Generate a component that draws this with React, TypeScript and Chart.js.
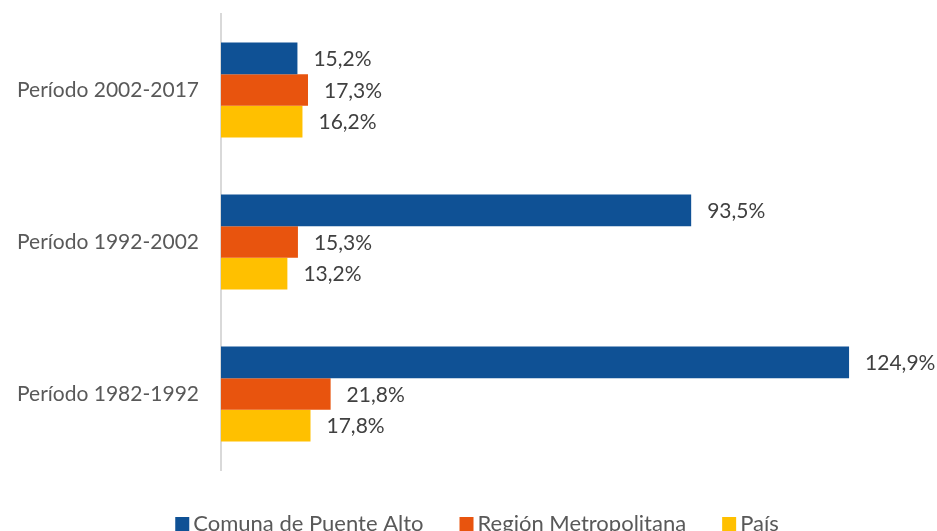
import React, { useEffect, useRef } from "react";
import { Chart, registerables } from "chart.js";

Chart.register(...registerables);

const categories = ["Período 2002-2017", "Período 1992-2002", "Período 1982-1992"];
const seriesNames = ["Comuna de Puente Alto", "Región Metropolitana", "País"];
const puenteAlto = [15.2, 93.5, 124.9];
const regionMetropolitana = [17.3, 15.3, 21.8];
const pais = [16.2, 13.2, 17.8];
const colors = ["#0F5195", "#E8540E", "#FFC000"];

const FONT = "Lato, 'Open Sans', sans-serif";

const fmt = (v: number) => v.toFixed(1).replace(".", ",") + "%";

const labelPlugin = {
  id: "barLabels",
  afterDatasetsDraw(chart: any) {
    const ctx = chart.ctx;
    ctx.save();
    ctx.font = `21px ${FONT}`;
    ctx.fillStyle = "#404040";
    ctx.textAlign = "left";
    ctx.textBaseline = "middle";
    chart.data.datasets.forEach((ds: any, i: number) => {
      const meta = chart.getDatasetMeta(i);
      meta.data.forEach((bar: any, j: number) => {
        ctx.fillText(fmt(ds.data[j]), bar.x + 16, bar.y + 1);
      });
    });
    ctx.restore();
  },
};

const legendPlugin = {
  id: "customLegend",
  afterDraw(chart: any) {
    const ctx = chart.ctx;
    ctx.save();
    ctx.font = `22px ${FONT}`;
    ctx.textBaseline = "middle";
    ctx.textAlign = "left";
    const box = 14;
    const gapBoxText = 4;
    const gapItems = 36;
    const widths = seriesNames.map((n) => box + gapBoxText + ctx.measureText(n).width);
    const total = widths.reduce((a, b) => a + b, 0) + gapItems * (seriesNames.length - 1);
    let x = 477 - total / 2;
    const y = 524;
    seriesNames.forEach((n, i) => {
      ctx.fillStyle = colors[i];
      ctx.fillRect(x, y - box / 2, box, box);
      ctx.fillStyle = "#595959";
      ctx.fillText(n, x + box + gapBoxText, y);
      x += widths[i] + gapItems;
    });
    ctx.restore();
  },
};

export default function App() {
  const ref = useRef<HTMLCanvasElement | null>(null);
  useEffect(() => {
    document.body.style.margin = "0";
    document.body.style.overflow = "hidden";
    const chart = new Chart(ref.current!, {
      type: "bar",
      data: {
        labels: categories,
        datasets: [
          { label: seriesNames[0], data: puenteAlto, backgroundColor: colors[0] },
          { label: seriesNames[1], data: regionMetropolitana, backgroundColor: colors[1] },
          { label: seriesNames[2], data: pais, backgroundColor: colors[2] },
        ],
      },
      options: {
        indexAxis: "y",
        animation: false,
        responsive: false,
        maintainAspectRatio: false,
        layout: { padding: { top: 14, right: 12, bottom: 61, left: 0 } },
        datasets: { bar: { categoryPercentage: 0.625, barPercentage: 1 } },
        plugins: { legend: { display: false }, tooltip: { enabled: false } },
        scales: {
          x: { display: false, min: 0, max: 140 },
          y: {
            grid: { display: false, drawTicks: false },
            border: { display: true, color: "#D9D9D9", width: 2 },
            ticks: { color: "#595959", font: { size: 21, family: FONT }, padding: 22 },
            afterFit(scale: any) {
              scale.width = 221;
              scale.paddingTop = 0;
              scale.paddingBottom = 0;
            },
          },
        },
      },
      plugins: [labelPlugin, legendPlugin],
    });
    return () => chart.destroy();
  }, []);
  return <canvas ref={ref} width={937} height={531} style={{ display: "block" }} />;
}
